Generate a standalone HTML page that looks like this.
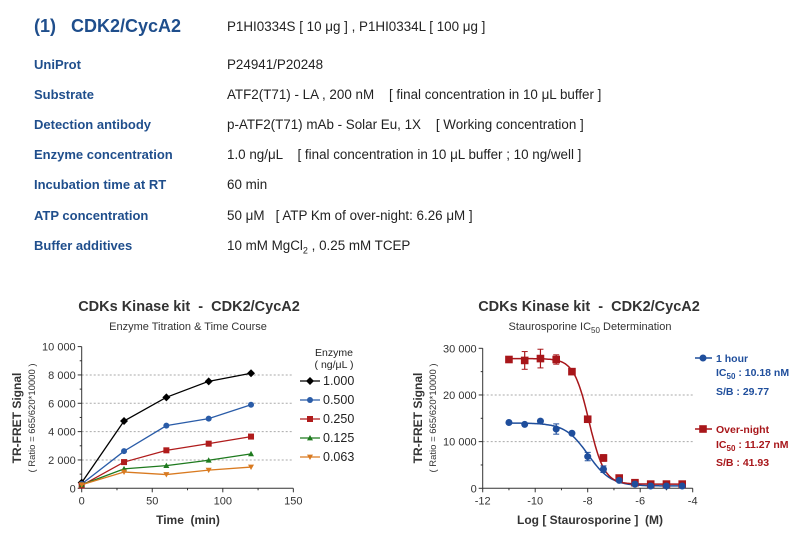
<!DOCTYPE html>
<html><head><meta charset="utf-8"><style>
body{margin:0;width:808px;height:545px;background:#fff;overflow:hidden;font-family:"Liberation Sans",sans-serif;position:relative}
.t{position:absolute;white-space:nowrap}
.lab{left:34px;color:#1f4e8c;font-weight:bold;font-size:13px}
.val{left:227px;color:#222;font-size:13.4px}
</style></head><body>
<div class="t" style="left:34px;top:16px;font-size:18px;font-weight:bold;color:#1f4e8c">(1)&nbsp;&nbsp;&nbsp;CDK2/CycA2</div>
<div class="t val" style="top:19px">P1HI0334S [ 10 μg ] , P1HI0334L [ 100 μg ]</div>
<div class="t lab" style="top:57px">UniProt</div><div class="t val" style="top:57px">P24941/P20248</div>
<div class="t lab" style="top:87px">Substrate</div><div class="t val" style="top:87px">ATF2(T71) - LA , 200 nM &nbsp;&nbsp;&nbsp;[ final concentration in 10 μL buffer ]</div>
<div class="t lab" style="top:117px">Detection antibody</div><div class="t val" style="top:117px">p-ATF2(T71) mAb - Solar Eu, 1X &nbsp;&nbsp;&nbsp;[ Working concentration ]</div>
<div class="t lab" style="top:147px">Enzyme concentration</div><div class="t val" style="top:147px">1.0 ng/μL &nbsp;&nbsp;&nbsp;[ final concentration in 10 μL buffer ; 10 ng/well ]</div>
<div class="t lab" style="top:177px">Incubation time at RT</div><div class="t val" style="top:177px">60 min</div>
<div class="t lab" style="top:208px">ATP concentration</div><div class="t val" style="top:208px">50 μM &nbsp;&nbsp;[ ATP Km of over-night: 6.26 μM ]</div>
<div class="t lab" style="top:238px">Buffer additives</div><div class="t val" style="top:238px">10 mM MgCl<sub style="font-size:9px">2</sub> , 0.25 mM TCEP</div>
<svg id="s" width="808" height="545" style="position:absolute;left:0;top:0" font-family="Liberation Sans, sans-serif"></svg>
<script>
var o='';
function T(x,y,s,a,st){o+='<text x="'+x+'" y="'+y+'" '+(a?'text-anchor="'+a+'" ':'')+(st||'')+'>'+s+'</text>';}
function L(a,b,c,d,st){o+='<line x1="'+a+'" y1="'+b+'" x2="'+c+'" y2="'+d+'" '+(st||'stroke="#333"')+'/>';}
var X0=81.7,Y0=488.3,sx=1.411,sy=141.7/10000;
function lx(v){return X0+v*sx} function ly(v){return Y0-v*sy}
T(189,311,'CDKs Kinase kit &#160;- &#160;CDK2/CycA2','middle','style="font-size:14.5px;font-weight:bold;fill:#333"');
T(188,330,'Enzyme Titration &amp; Time Course','middle','style="font-size:11px;fill:#333"');
[2000,4000,6000,8000].forEach(function(v){L(X0,ly(v),293,ly(v),'stroke="#aaa" stroke-dasharray="2,2"');});
L(X0,ly(10000),X0,Y0);L(X0,Y0,293.3,Y0);
for(var v=0;v<=10000;v+=1000){L(X0-(v%2000?2:4),ly(v),X0,ly(v));if(v%2000==0)T(X0-6,ly(v)+4,v==0?'0':(v/1000)+' 000','end','style="font-size:11px;fill:#333"');}
for(var t=0;t<=150;t+=25){L(lx(t),Y0,lx(t),Y0+(t%50?2:4));if(t%50==0)T(lx(t),Y0+16,t,'middle','style="font-size:11px;fill:#333"');}
T(188,524,'Time &#160;(min)','middle','style="font-size:12px;font-weight:bold;fill:#333"');
o+='<text transform="translate(21,418) rotate(-90)" text-anchor="middle" style="font-size:12px;font-weight:bold;fill:#333">TR-FRET Signal</text>';
o+='<text transform="translate(35,418) rotate(-90)" text-anchor="middle" style="font-size:9.5px;fill:#333">( Ratio = 665/620*10000 )</text>';
var tt=[0,30,60,90,120];
var S=[['#000','d',[400,4750,6420,7550,8120],'1.000'],['#2a5ca8','c',[300,2620,4420,4920,5900],'0.500'],['#b01c1c','s',[200,1850,2680,3150,3650],'0.250'],['#1e7a1e','t',[250,1370,1600,1980,2430],'0.125'],['#d97a20','v',[250,1150,970,1280,1500],'0.063']];
function M(k,x,y,c,r){r=r||3;if(k=='d')o+='<path d="M'+x+' '+(y-r-1)+'L'+(x+r+1)+' '+y+'L'+x+' '+(y+r+1)+'L'+(x-r-1)+' '+y+'Z" fill="'+c+'"/>';
else if(k=='c')o+='<circle cx="'+x+'" cy="'+y+'" r="'+r+'" fill="'+c+'"/>';
else if(k=='s')o+='<rect x="'+(x-r)+'" y="'+(y-r)+'" width="'+2*r+'" height="'+2*r+'" fill="'+c+'"/>';
else if(k=='t')o+='<path d="M'+x+' '+(y-r)+'L'+(x+r)+' '+(y+r*0.8)+'L'+(x-r)+' '+(y+r*0.8)+'Z" fill="'+c+'"/>';
else o+='<path d="M'+x+' '+(y+r)+'L'+(x+r)+' '+(y-r*0.8)+'L'+(x-r)+' '+(y-r*0.8)+'Z" fill="'+c+'"/>';}
S.forEach(function(s,i){var p=s[2].map(function(v,j){return lx(tt[j])+','+ly(v)}).join(' ');
o+='<polyline points="'+p+'" fill="none" stroke="'+s[0]+'" stroke-width="1.3"/>';
s[2].forEach(function(v,j){M(s[1],lx(tt[j]),ly(v),s[0])});
var yy=381+i*19;L(300,yy,320,yy,'stroke="'+s[0]+'" stroke-width="1.3"');M(s[1],310,yy,s[0]);T(323,yy+4,s[3],'','style="font-size:12.5px;fill:#222"');});
T(334,356,'Enzyme','middle','style="font-size:10.5px;fill:#222"');T(334,368,'( ng/μL )','middle','style="font-size:10.5px;fill:#222"');
var RX=482.7,RY=488.3,rsx=26.25,rsy=140/30000;
function rx(v){return RX+(v+12)*rsx} function ry(v){return RY-v*rsy}
T(589,311,'CDKs Kinase kit &#160;- &#160;CDK2/CycA2','middle','style="font-size:14.5px;font-weight:bold;fill:#333"');
o+='<text x="590" y="330" text-anchor="middle" style="font-size:11px;fill:#333">Staurosporine IC<tspan font-size="8" dy="3">50</tspan><tspan dy="-3"> Determination</tspan></text>';
[10000,20000].forEach(function(v){L(RX,ry(v),693,ry(v),'stroke="#aaa" stroke-dasharray="2,2"');});
L(RX,ry(30000),RX,RY);L(RX,RY,692.7,RY);
for(v=0;v<=30000;v+=5000){L(RX-(v%10000?2:4),ry(v),RX,ry(v));if(v%10000==0)T(RX-6,ry(v)+4,v==0?'0':(v/1000)+' 000','end','style="font-size:11px;fill:#333"');}
for(t=-12;t<=-4;t+=1){L(rx(t),RY,rx(t),RY+(t%2?2:4));if(t%2==0)T(rx(t),RY+16,t,'middle','style="font-size:11px;fill:#333"');}
T(590,524,'Log [ Staurosporine ] &#160;(M)','middle','style="font-size:12px;font-weight:bold;fill:#333"');
o+='<text transform="translate(422,418) rotate(-90)" text-anchor="middle" style="font-size:12px;font-weight:bold;fill:#333">TR-FRET Signal</text>';
o+='<text transform="translate(436,418) rotate(-90)" text-anchor="middle" style="font-size:9.5px;fill:#333">( Ratio = 665/620*10000 )</text>';
var xs=[-11,-10.4,-9.8,-9.2,-8.6,-8,-7.4,-6.8,-6.2,-5.6,-5,-4.4];
var B=[14100,13700,14400,12700,11800,6800,4100,1700,900,500,500,500],Be=[0,0,0,1100,0,900,700,0,0,0,0,0];
var R=[27600,27400,27800,27600,25000,14800,6500,2200,1200,900,900,900],Re=[0,1900,2000,1000,0,0,700,0,0,0,0,0];
function curve(top,bot,ic,h,c){var p=[];for(var x=-11;x<=-4.4;x+=0.05){var y=bot+(top-bot)/(1+Math.pow(10,(x-ic)*h));p.push(rx(x).toFixed(1)+','+ry(y).toFixed(1));}
o+='<polyline points="'+p.join(' ')+'" fill="none" stroke="'+c+'" stroke-width="1.5"/>';}
curve(14000,500,-7.99,1.0,'#1f4e9c');curve(27800,900,-7.95,1.5,'#a8161a');
function pts(d,e,k,c){d.forEach(function(v,i){var x=rx(xs[i]),y=ry(v);if(e[i]){L(x,ry(v-e[i]),x,ry(v+e[i]),'stroke="'+c+'" stroke-width="1.2"');L(x-3,ry(v-e[i]),x+3,ry(v-e[i]),'stroke="'+c+'"');L(x-3,ry(v+e[i]),x+3,ry(v+e[i]),'stroke="'+c+'"');}M(k,x,y,c,k=='s'?3.8:3.5);});}
pts(R,Re,'s','#a8161a');pts(B,Be,'c','#1f4e9c');
L(695,358,712,358,'stroke="#1f4e9c" stroke-width="1.5"');M('c',703,358,'#1f4e9c',3.5);
o+='<g style="font-size:10.5px;font-weight:bold;fill:#1f4e9c"><text x="716" y="362">1 hour</text><text x="716" y="376">IC<tspan font-size="8" dy="3">50</tspan><tspan dy="-3"> : 10.18 nM</tspan></text><text x="716" y="395">S/B : 29.77</text></g>';
L(695,429,712,429,'stroke="#a8161a" stroke-width="1.5"');M('s',703,429,'#a8161a',3.8);
o+='<g style="font-size:10.5px;font-weight:bold;fill:#a8161a"><text x="716" y="433">Over-night</text><text x="716" y="448">IC<tspan font-size="8" dy="3">50</tspan><tspan dy="-3"> : 11.27 nM</tspan></text><text x="716" y="466">S/B : 41.93</text></g>';
document.getElementById('s').innerHTML=o;
</script>
</body></html>
